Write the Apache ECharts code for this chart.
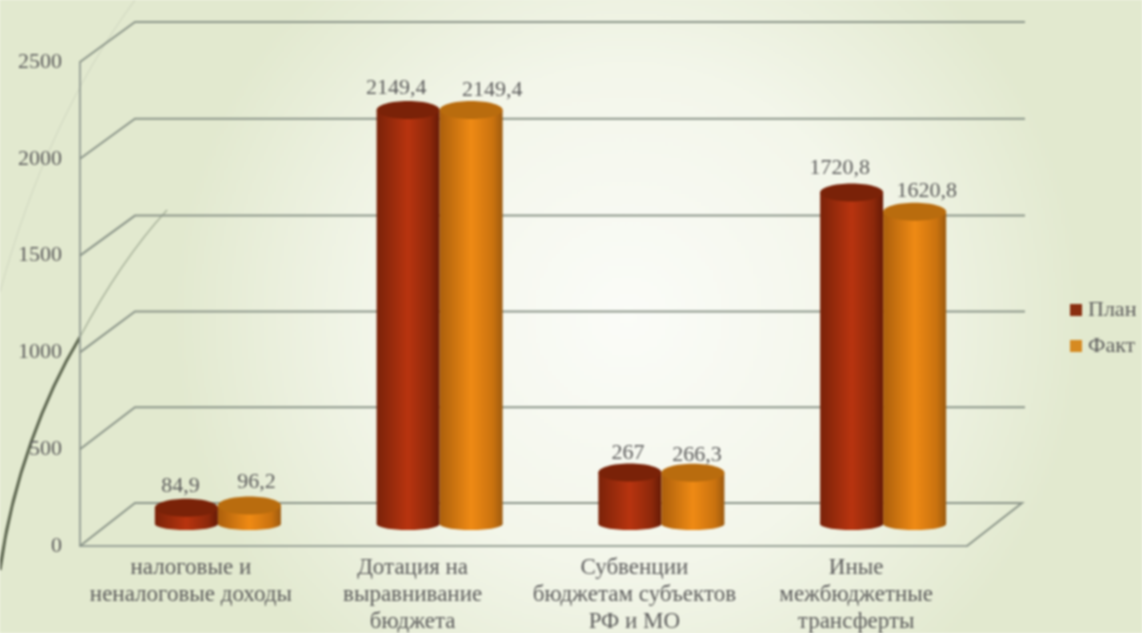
<!DOCTYPE html>
<html><head><meta charset="utf-8">
<style>html,body{margin:0;padding:0;background:#f0f4e4}#c{width:1142px;height:633px;filter:blur(0.9px)}</style>
<script src="https://cdn.jsdelivr.net/npm/echarts@6/dist/echarts.min.js"></script>
</head><body><div id="c"></div>
<script>
const categories = ['налоговые и\nненалоговые доходы','Дотация на\nвыравнивание\nбюджета','Субвенции\nбюджетам субъектов\nРФ и МО','Иные\nмежбюджетные\nтрансферты'];
const planValues = [84.9, 2149.4, 267, 1720.8];
const factValues = [96.2, 2149.4, 266.3, 1620.8];
const planLabels = ['84,9','2149,4','267','1720,8'];
const factLabels = ['96,2','2149,4','266,3','1620,8'];
const yTicks = [0, 500, 1000, 1500, 2000, 2500];

// layout only
const planLabelNudge = [[-6,2],[-12,1],[-2,4],[-12,-1]];
const factLabelNudge = [[7,0],[21,3],[4,6],[12,2]];
const FONT = '"Liberation Serif", serif';
const DEPTH_X = 55, BAR_W = 63, RY = 9;

function depthY(v){ return -43 + 3 * v / 1500 > -40 ? -40 : -43 + 3 * v / 1500; }

function renderWalls(params, api){
  const v = api.value(0), cs = params.coordSys;
  const y = api.coord([0, v])[1], x0 = cs.x, x1 = cs.x + cs.width;
  const by = y + depthY(v);
  const line = {stroke:'#8c968a', lineWidth: 2, fill:null};
  const pts = v === 0
    ? [[x0,y],[x0+DEPTH_X,by],[x1+DEPTH_X,by],[x1,y]]
    : [[x0,y],[x0+DEPTH_X,by],[x1+DEPTH_X+3,by]];
  return {type:'polyline', shape:{points:pts}, style:line, silent:true};
}

function cylinder(stops, topColor, labels, nudges, side){
  return function(params, api){
    const i = api.value(0), v = api.value(1);
    const c = api.coord([i, v]), z = api.coord([i, 0]);
    const cx = c[0] + 27 + side * BAR_W / 2;
    const top = c[1] - 22 + v * 0.001, base = z[1] - 22;
    const grad = {type:'linear',x:0,y:0,x2:1,y2:0,colorStops:stops};
    const l = BAR_W / 2;
    const n = nudges[i];
    return {type:'group', children:[
      {type:'ellipse', shape:{cx:cx,cy:base,rx:l,ry:6}, style:{fill:grad}},
      {type:'rect', shape:{x:cx-l,y:top,width:BAR_W,height:base-top}, style:{fill:grad}},
      {type:'ellipse', shape:{cx:cx,cy:top,rx:l,ry:RY}, style:{fill:topColor}},
      {type:'text', x:cx+n[0], y:top-RY-14+n[1], style:{text:labels[i], fill:'#5c5c5c', font:'22px '+FONT, align:'center', verticalAlign:'middle'}}
    ]};
  };
}

const planStops=[{offset:0,color:'#7a2209'},{offset:.5,color:'#b8340f'},{offset:.85,color:'#8c280b'},{offset:1,color:'#661a06'}];
const factStops=[{offset:0,color:'#ab5f0c'},{offset:.5,color:'#ef8a14'},{offset:.85,color:'#c9720f'},{offset:1,color:'#9c5a10'}];

const chart = echarts.init(document.getElementById('c'));
chart.setOption({
  animation:false,
  backgroundColor:{type:'radial',x:.55,y:.5,r:.72,colorStops:[{offset:0,color:'#fbfcf8'},{offset:.55,color:'#f3f6ea'},{offset:1,color:'#e2e9cf'}]},
  graphic:[
    {type:'bezierCurve',z:0,shape:{x1:0,y1:570,cpx1:12,cpy1:480,cpx2:45,cpy2:395,x2:80,y2:337},style:{stroke:'#5d6650',lineWidth:3,fill:null}},
    {type:'bezierCurve',z:0,shape:{x1:80,y1:337,cpx1:105,cpy1:290,cpx2:135,cpy2:245,x2:167,y2:210},style:{stroke:'#a9b39c',lineWidth:1.5,fill:null}},
    {type:'bezierCurve',z:0,shape:{x1:0,y1:292,cpx1:25,cpy1:200,cpx2:65,cpy2:95,x2:135,y2:0},style:{stroke:'#d2d9c2',lineWidth:1.2,fill:null}}
  ],
  grid:{left:80,width:887,top:62,height:484,outerBoundsMode:'none'},
  legend:{orient:'vertical',left:1065,top:294,itemWidth:12,itemHeight:12,itemGap:14,icon:'rect',
    data:['План','Факт'],textStyle:{fontFamily:FONT,fontSize:22,color:'#5c5c5c',padding:[0,0,0,1]}},
  xAxis:{type:'category',data:categories,
    axisLine:{show:true,lineStyle:{color:'#9aa398',width:2}},axisTick:{show:false},
    axisLabel:{interval:0,margin:8,fontFamily:FONT,fontSize:23,lineHeight:27,color:'#5c5c5c'}},
  yAxis:{type:'value',min:0,max:2500,interval:500,splitLine:{show:false},
    axisLine:{show:true,lineStyle:{color:'#9aa398',width:2}},axisTick:{show:false},
    axisLabel:{margin:18,fontFamily:FONT,fontSize:22,color:'#5c5c5c',formatter:v=>String(v)}},
  series:[
    {type:'custom',name:'walls',z:1,silent:true,encode:{y:0},data:yTicks.map(v=>[v]),renderItem:renderWalls,tooltip:{show:false}},
    {type:'custom',name:'План',z:3,itemStyle:{color:'#8a2e10'},encode:{x:0,y:1},
      data:planValues.map((v,i)=>[i,v]),renderItem:cylinder(planStops,'#7a2208',planLabels,planLabelNudge,-1)},
    {type:'custom',name:'Факт',z:4,itemStyle:{color:'#d68a22'},encode:{x:0,y:1},
      data:factValues.map((v,i)=>[i,v]),renderItem:cylinder(factStops,'#b96c0e',factLabels,factLabelNudge,1)}
  ]
});
</script></body></html>
